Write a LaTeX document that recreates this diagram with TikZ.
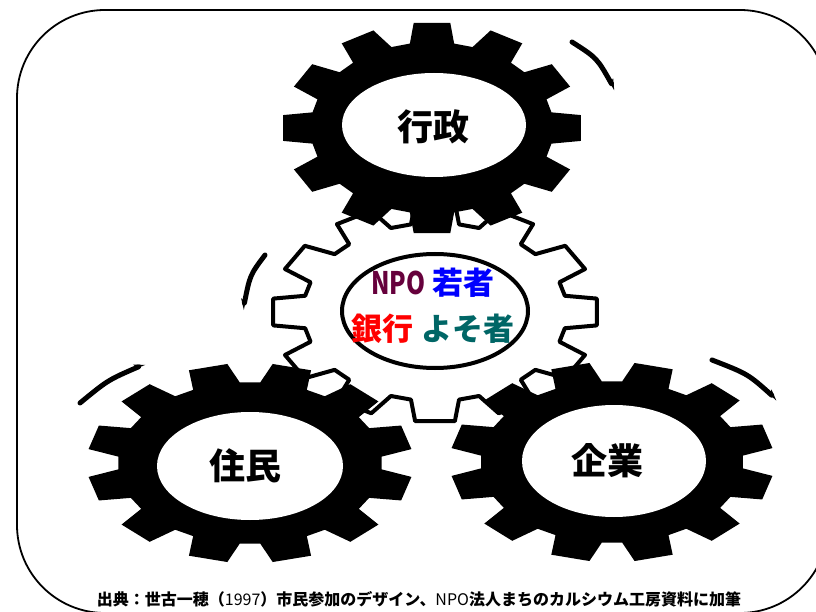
\documentclass[tikz,border=0pt]{standalone}
\usepackage{fontspec}
\usepackage{tikz}
\usepackage{xcolor}
\usetikzlibrary{arrows.meta}
\newfontfamily\cjk{Noto Sans CJK JP}

\definecolor{npocol}{RGB}{102,0,60}
\definecolor{yosocol}{RGB}{0,102,102}

% twelve teeth on a unit circle, #1 turns the teeth
\newcommand{\gearpath}[1]{%
  ({#1-10.5}:0.81) \foreach \ang in {0,30,...,330} {
    -- ({#1+\ang-10.5}:0.81) -- ({#1+\ang-7}:1) -- ({#1+\ang+7}:1) -- ({#1+\ang+10.5}:0.81)
  } -- cycle}

\tikzset{
  label/.style={font=\cjk\bfseries\fontsize{36}{36}\selectfont},
  turn/.style={line width=5pt,line cap=round,-{Stealth[harpoon,length=9pt,width=8pt,inset=2pt]}},
}

\begin{document}
\begin{tikzpicture}[x=1pt,y=-1pt,line width=0.5pt,line cap=round,line join=round]
\useasboundingbox (0,0) rectangle (816,612);
\clip (0,0) rectangle (816,612);

\draw[line width=1.8pt,rounded corners=88pt] (17,10) rectangle (828,613);

%%%%%%%%%%%%%%%% WHITE GEAR %%%%%%%%%%%%%%%%%%%
\filldraw[fill=white,line width=4pt,shift={(435,312)},xscale=163,yscale=110] \gearpath{0};
\draw[line width=4pt] (435,311) ellipse [x radius=93,y radius=57];

%%%%%%%%%%%%%%%% BLACK GEARS %%%%%%%%%%%%%%%%%%%
\fill[shift={(432,128)},xscale=150,yscale=106] \gearpath{0};
\fill[shift={(250,463)},xscale=163,yscale=100] \gearpath{15};
\fill[shift={(612,462)},xscale=162,yscale=100] \gearpath{15};

\fill[white] (434,125) ellipse [x radius=92,y radius=52];
\fill[white] (250,466) ellipse [x radius=93,y radius=54];
\fill[white] (614,461) ellipse [x radius=92,y radius=56];

\node[label] (gyosei) at (433,127) {行政};
\node[label] (jumin) at (245,466) {住民};
\node[label] (kigyo) at (607,461) {企業};

\node[font=\cjk\bfseries\fontsize{31}{31}\selectfont] (npo) at (433,283)
  {\textcolor{npocol}{\scalebox{0.78}[1]{NPO}} \textcolor{blue}{若者}};
\node[font=\cjk\bfseries\fontsize{31}{31}\selectfont] (yoso) at (433,329)
  {\textcolor{red}{銀行} \textcolor{yosocol}{よそ者}};

%%%%%%%%%%%%%%%% ROTATION %%%%%%%%%%%%%%%%%%%
\coordinate (t1) at (572,42);  \coordinate (t2) at (615,90);
\coordinate (m1) at (265,255); \coordinate (m2) at (243,310);
\coordinate (l1) at (80,403);  \coordinate (l2) at (145,364);
\coordinate (r1) at (712,360); \coordinate (r2) at (777,400);

\draw[turn] (t1) .. controls (597,58) .. (t2);
\draw[turn,-{Stealth[harpoon,swap,length=9pt,width=8pt,inset=2pt]}] (m1) .. controls (250,275) .. (m2);
\draw[turn] (l1) .. controls (108,380) .. (l2);
\draw[turn] (r1) .. controls (748,374) .. (r2);

\node[font=\cjk\bfseries\fontsize{16}{16}\selectfont] (source) at (419,599)
  {出典：世古一穂（{\mdseries 1997}）市民参加のデザイン、{\mdseries NPO}法人まちのカルシウム工房資料に加筆};

\end{tikzpicture}
\end{document}
